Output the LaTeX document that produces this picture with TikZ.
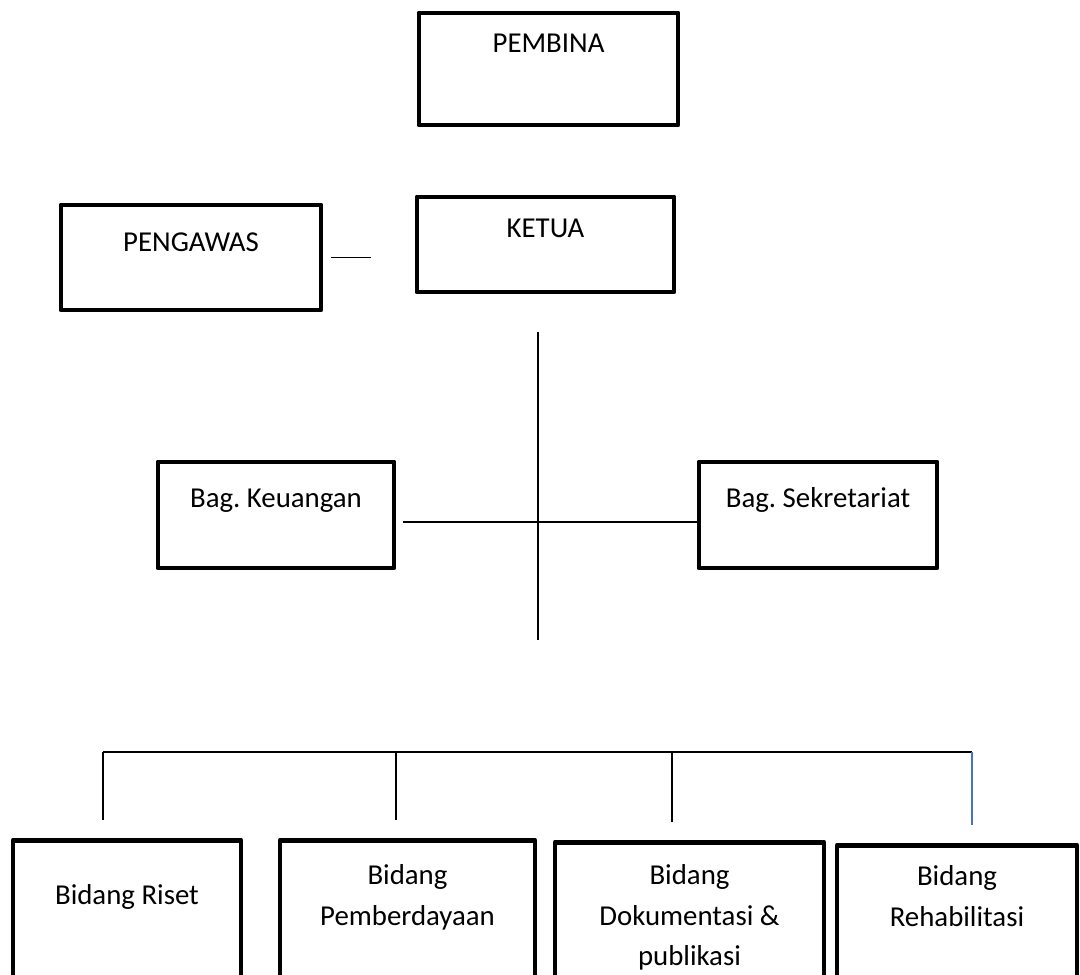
\documentclass[tikz,border=0pt]{standalone}
\usepackage{fontspec}
\setmainfont{Carlito}
\frenchspacing
\definecolor{lineblue}{RGB}{68,114,196}
\begin{document}
\begin{tikzpicture}[
    orgbox/.style={draw, line width=3.5pt, line join=round, inner sep=0pt,
        align=flush center, font=\fontsize{20.5}{29}\selectfont},
    thinline/.style={line width=1.1pt},
    busline/.style={line width=1.6pt}
]
    \useasboundingbox (0,0) rectangle (27,24.375);
    \clip (0,0) rectangle (27,24.375);

    % Top level
    \node[orgbox, text width=6.475cm, text height=1.0cm, text depth=1.8cm] (pembina) at (13.7125, 22.65) {PEMBINA};

    \node[orgbox, text width=6.5cm, text height=1.175cm, text depth=1.45cm] (pengawas) at (4.775, 17.9375) {PENGAWAS};
    \node[orgbox, text width=6.425cm, text height=1.025cm, text depth=1.35cm] (ketua) at (13.6375, 18.2625) {KETUA};
    \draw[thinline] ([xshift=0.2cm]pengawas.east) -- ([xshift=-1.1cm]pengawas.east -| ketua.west);

    % Bagian
    \node[orgbox, text width=5.9cm, text height=1.15cm, text depth=1.5cm] (keuangan) at (6.9, 11.5) {Bag. Keuangan};
    \node[orgbox, text width=5.95cm, text height=1.15cm, text depth=1.5cm] (sekretariat) at (20.45, 11.5) {Bag. Sekretariat};

    \coordinate (hub) at (13.45, 11.325);
    \draw[thinline] ([yshift=-0.95cm]hub |- ketua.south) -- (hub) -- ++(0,-2.95);
    \draw[thinline] ([xshift=0.175cm]keuangan.east |- hub) -- (sekretariat.west |- hub);

    % Bidang
    \node[orgbox, anchor=north, text width=5.7cm, text height=1.6cm, text depth=2.6cm] (riset) at (3.175, 3.425) {Bidang Riset};
    \node[orgbox, anchor=north, text width=6.375cm, text height=1.1cm, text depth=3.1cm] (pemberdayaan) at (10.1875, 3.425) {Bidang\\Pemberdayaan};
    \node[orgbox, anchor=north, text width=6.725cm, text height=1.05cm, text depth=3.2cm] (dokumentasi) at (17.2375, 3.375) {Bidang\\Dokumentasi \&\\publikasi};
    \node[orgbox, anchor=north, text width=6.0cm, text height=1.0cm, text depth=3.3cm] (rehabilitasi) at (23.925, 3.3) {Bidang\\Rehabilitasi};

    \coordinate (busL) at (2.575, 5.575);
    \coordinate (busR) at (24.3, 5.575);
    \draw[busline] (busL) -- (busR);
    \foreach \name/\dx in {riset/-0.6, pemberdayaan/-0.2875, dokumentasi/-0.4375}
        \draw[thinline] ([xshift=\dx cm]\name.north |- busL) -- ([xshift=\dx cm, yshift=0.45cm]\name.north);
    \draw[thinline, lineblue] ([xshift=0.375cm]rehabilitasi.north |- busL) -- ([xshift=0.375cm, yshift=0.45cm]rehabilitasi.north);
\end{tikzpicture}
\end{document}
